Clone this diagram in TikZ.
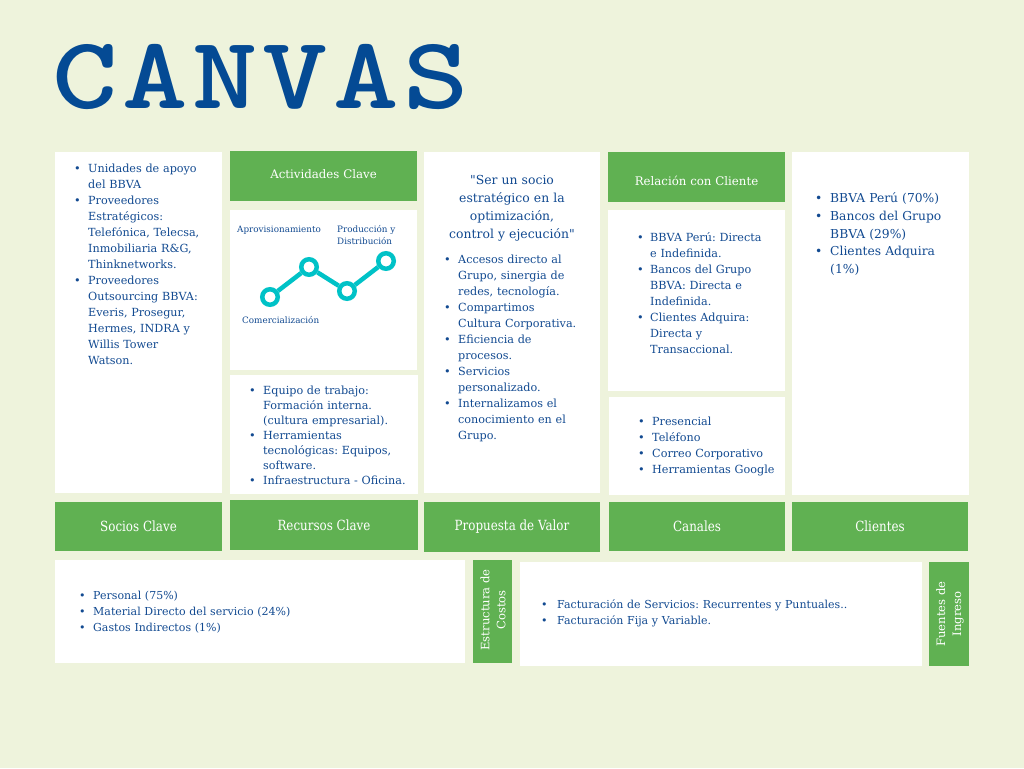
\documentclass[tikz,border=0pt]{standalone}
\usepackage{graphicx}
\usepackage{fontspec}
\setmainfont{DejaVu Serif}[Ligatures=TeXOff]
\newfontfamily\condfont{DejaVu Serif}[FakeStretch=0.85]
\definecolor{bgc}{RGB}{238,243,220}
\definecolor{grn}{RGB}{96,177,82}
\definecolor{txtc}{RGB}{18,74,145}
\definecolor{ttlc}{RGB}{4,74,148}
\definecolor{tealc}{RGB}{0,194,199}
\frenchspacing
\newcommand\fs[2]{\fontsize{#1}{#2}\selectfont\frenchspacing}
\newcommand\itm[1][14pt]{\par\leftskip=#1\noindent\llap{\makebox[#1][l]{\textbullet}}\strut\ignorespaces}
\newcommand\mkbox[7]{\node[#1, minimum width={#5-#3}, minimum height={#6-#4}] (#2) at ({(#3+#5)/2},{(#4+#6)/2}) {#7};}
\tikzset{
  wbox/.style={fill=white, inner sep=0pt},
  gbox/.style={fill=grn, inner sep=0pt, text=white, font=\fs{11.8}{13}},
  gboxb/.style={fill=grn, inner sep=0pt, text=white, font=\condfont\fs{14}{15}},
  lst/.style={anchor=north west, inner sep=0pt, text=txtc, align=left, text width=#1},
  clab/.style={anchor=north west, inner sep=0pt, text=txtc, align=left, text width=90pt, font=\fs{8.8}{12}},
  dot/.style={circle, draw=tealc, line width=4.5pt, fill=white, minimum size=15.5pt, inner sep=0pt},
  vlab/.style={rotate=90, text=white, align=center, inner sep=0pt, font=\fs{11.6}{16}}
}
\begin{document}
\begin{tikzpicture}[x=1pt,y=-1pt]
\useasboundingbox (0,0) rectangle (1024,768);
\fill[bgc] (0,0) rectangle (1024,768);
% title
\node[anchor=base west, inner sep=0pt, text=ttlc, font=\ttfamily\bfseries\fontsize{103}{110}\selectfont] (title) at (52,108) {\scalebox{1.21}[1]{C\kern4pt A\kern4pt N\kern4pt V\kern4pt A\kern4pt S}};
% top row boxes
\mkbox{wbox}{sociosB}{55}{152}{222}{493}{}
\mkbox{gbox}{actH}{230}{151}{417}{201}{\raisebox{-2pt}[0pt][0pt]{Actividades Clave}}
\mkbox{wbox}{actB}{230}{210}{417}{370}{}
\mkbox{wbox}{recB}{230}{375}{418}{494}{}
\mkbox{wbox}{propB}{424}{152}{600}{493}{}
\mkbox{gbox}{relH}{608}{152}{785}{202}{\raisebox{-8pt}[0pt][0pt]{Relación con Cliente}}
\mkbox{wbox}{relB}{608}{210}{785}{391}{}
\mkbox{wbox}{canB}{609}{397}{785}{495}{}
\mkbox{wbox}{cliB}{792}{152}{969}{495}{}
% bottom headers
\mkbox{gboxb}{sociosH}{55}{502}{222}{551}{Socios Clave}
\mkbox{gboxb}{recH}{230}{500}{418}{550}{Recursos Clave}
\mkbox{gboxb}{propH}{424}{502}{600}{552}{Propuesta de Valor}
\mkbox{gboxb}{canH}{609}{502}{785}{551}{Canales}
\mkbox{gboxb}{cliH}{792}{502}{968}{551}{Clientes}
% bottom row
\mkbox{wbox}{cosB}{55}{560}{465}{663}{}
\mkbox{gbox}{cosH}{473}{560}{512}{663}{}
\mkbox{wbox}{ingB}{520}{562}{922}{666}{}
\mkbox{gbox}{ingH}{929}{562}{969}{666}{}
\node[vlab] (cosT) at (493,610) {Estructura de\\Costos};
\node[vlab] (ingT) at (950,614) {Fuentes de\\Ingreso};
% socios list
\node[lst=160pt, font=\fs{11.2}{16}] (sociosL) at (74,155.8) {\itm Unidades de apoyo\\del BBVA \itm Proveedores\\Estratégicos:\\Telefónica, Telecsa,\\Inmobiliaria R\&G,\\Thinknetworks. \itm Proveedores\\Outsourcing BBVA:\\Everis, Prosegur,\\Hermes, INDRA y\\Willis Tower\\Watson.\par};
% chart
\node[dot] (c1) at (270,297) {};
\node[dot] (c2) at (309,267) {};
\node[dot] (c3) at (347,291) {};
\node[dot] (c4) at (386,261) {};
\draw[tealc, line width=4.5pt] (c1) -- (c2);
\draw[tealc, line width=4.5pt] (c2) -- (c3);
\draw[tealc, line width=4.5pt] (c3) -- (c4);
\node[clab] (l1) at (237,223.6) {\strut Aprovisionamiento};
\node[clab] (l2) at (337,223.6) {\strut Producción y\\Distribución};
\node[clab] (l3) at (242,314.6) {\strut Comercialización};
% recursos list
\node[lst=180pt, font=\fs{11.2}{15}] (recL) at (249,379.5) {\itm Equipo de trabajo:\\Formación interna.\\(cultura empresarial). \itm Herramientas\\tecnológicas: Equipos,\\software. \itm Infraestructura - Oficina.\par};
% propuesta
\node[anchor=north, inner sep=0pt, text=txtc, align=center, text width=176pt, font=\fs{12.4}{18}] (quote) at (512,171.4) {\strut"Ser un socio\\estratégico en la\\optimización,\\control y ejecución"};
\node[lst=170pt, font=\fs{11.2}{16}] (propL) at (444,246.8) {\itm Accesos directo al\\Grupo, sinergia de\\redes, tecnología. \itm Compartimos\\Cultura Corporativa. \itm Eficiencia de\\procesos. \itm Servicios\\personalizado. \itm Internalizamos el\\conocimiento en el\\Grupo.\par};
% relacion
\node[lst=170pt, font=\fs{11.2}{16}] (relL) at (637,224.8) {\itm[13pt]BBVA Perú: Directa\\e Indefinida. \itm[13pt]Bancos del Grupo\\BBVA: Directa e\\Indefinida. \itm[13pt]Clientes Adquira:\\Directa y\\Transaccional.\par};
% canales
\node[lst=170pt, font=\fs{11.2}{16}] (canL) at (638,408.8) {\itm Presencial \itm Teléfono \itm Correo Corporativo \itm Herramientas Google\par};
% clientes
\node[lst=170pt, font=\fs{12.3}{17.8}] (cliL) at (815,184.5) {\itm[15pt]BBVA Perú (70\%) \itm[15pt]Bancos del Grupo\\BBVA (29\%) \itm[15pt]Clientes Adquira\\(1\%)\par};
% costos
\node[lst=300pt, font=\fs{11}{16}] (cosL) at (79,582.8) {\itm Personal (75\%) \itm Material Directo del servicio (24\%) \itm Gastos Indirectos (1\%)\par};
% ingresos
\node[lst=380pt, font=\fs{11}{16}] (ingL) at (541,591.8) {\itm[16pt]Facturación de Servicios: Recurrentes y Puntuales.. \itm[16pt]Facturación Fija y Variable.\par};
\end{tikzpicture}
\end{document}
